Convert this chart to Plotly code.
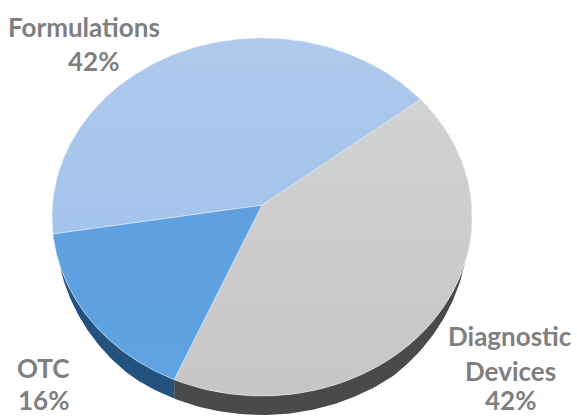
import numpy as np
import plotly.graph_objects as go

categories = ["Diagnostic Devices", "OTC", "Formulations"]
values = [42, 16, 42]
label_lines = [["Diagnostic", "Devices", "42%"], ["OTC", "16%"], ["Formulations", "42%"]]

TOP_COLORS = [
    [[0, "#c6c6c6"], [1, "#d2d2d2"]],
    [[0, "#5fa3e2"], [1, "#5f9fdd"]],
    [[0, "#a3c4ec"], [1, "#aecaec"]],
]
SIDE_COLORS = ["#4a4a4a", "#24527f", None]

CX, CY, RX, RY = 262.0, 217.0, 210.0, 179.0
APEX_Y = 205.0
DEPTH = 19.0
START_DEG = 38.0
W, H = 577, 417


def rim(theta_deg):
    """Where a ray from the apex, at pie angle theta, meets the ellipse rim."""
    t = np.radians(theta_deg)
    ax, ay = 0.0, (CY - APEX_Y) / RY
    dx, dy = np.cos(t), np.sin(t)
    b = ax * dx + ay * dy
    c = ax * ax + ay * ay - 1
    s = -b + np.sqrt(b * b - c)
    ux, uy = ax + s * dx, ay + s * dy
    return CX + RX * ux, CY - RY * uy


fig = go.Figure()
bounds = START_DEG - np.cumsum([0] + [v / sum(values) * 360 for v in values])
slices = []
for i in range(len(values)):
    th = np.linspace(bounds[i], bounds[i + 1], 180)
    slices.append((th, *rim(th)))

# Side wall, drawn first; it tapers out towards the sides of the pie
for i, (th, x, y) in enumerate(slices):
    if SIDE_COLORS[i] is None:
        continue
    wall = DEPTH * np.clip((y - CY - 50) / (RY * 0.5), 0, 1) ** 0.6
    fig.add_trace(go.Scatter(
        x=np.r_[x, x[::-1]], y=np.r_[y + wall, y[::-1]],
        mode="lines", fill="toself", fillcolor=SIDE_COLORS[i],
        line=dict(width=0), hoverinfo="skip", showlegend=False))

# Top surface
for i, (th, x, y) in enumerate(slices):
    fig.add_trace(go.Scatter(
        x=np.r_[CX, x, CX], y=np.r_[APEX_Y, y, APEX_Y],
        mode="lines", fill="toself",
        fillgradient=dict(type="vertical", colorscale=TOP_COLORS[i]),
        line=dict(width=1, color="rgba(225,235,248,0.55)"),
        name=categories[i], hoverinfo="name", showlegend=False))

label_xy = [[(510, 336), (510, 371), (510, 400)],
            [(43, 368), (43, 400)],
            [(84, 27), (93, 61)]]
for lines, pos in zip(label_lines, label_xy):
    for text, (px, py) in zip(lines, pos):
        fig.add_annotation(
            x=px / W, y=1 - py / H, xref="paper", yref="paper",
            text=f"<b>{text}</b>", showarrow=False, xanchor="center", yanchor="middle",
            font=dict(family="Lato, Carlito, sans-serif", size=26, color="#7f7f7f"))

fig.update_layout(
    width=W, height=H, margin=dict(l=0, r=0, t=0, b=0),
    paper_bgcolor="white", plot_bgcolor="white",
    xaxis=dict(range=[0, W], visible=False, fixedrange=True),
    yaxis=dict(range=[H, 0], visible=False, fixedrange=True),
)
fig.write_html("out.html", config={"displayModeBar": False},
               post_script="document.body.style.margin='0';document.body.style.overflow='hidden';")
